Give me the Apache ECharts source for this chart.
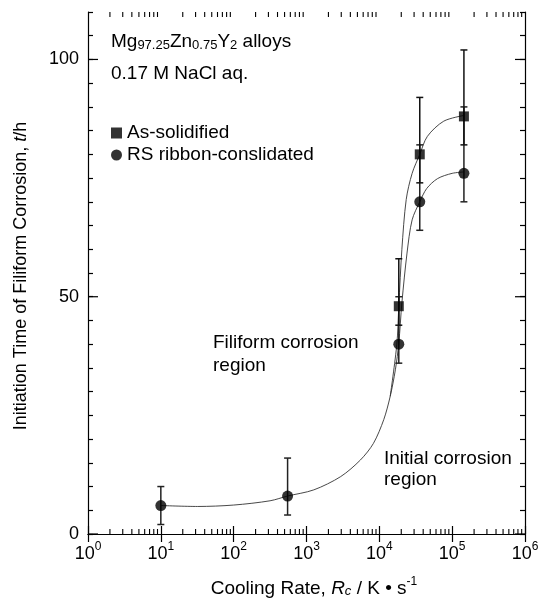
<!DOCTYPE html>
<html>
<head>
    <meta charset="UTF-8">
    <script type="text/javascript" src="https://cdn.jsdelivr.net/npm/echarts@6/dist/echarts.min.js"></script>
</head>
<style>
    body { margin: 0; padding: 0; background: #fff; }
</style>
<body>
<div id="main" style="width: 543px;height:599px;"></div>
<script>
    // measured points (cooling rate K/s, time h)
    var circlePts = [[10, 6], [550, 8], [18500, 40], [35900, 70], [145000, 76]]
    var circleErr = [[10, 2, 10], [550, 4, 16], [18500, 36, 50], [35900, 64, 82], [145000, 70, 90]]
    var squarePts = [[18500, 48], [35900, 80], [145000, 88]]
    var squareErr = [[18500, 44, 58], [35900, 74, 92], [145000, 82, 102]]

    // fitted curves
    var circleCurve = [[10, 6.0], [32, 5.8], [100, 6.1], [316, 7.0], [550, 8.0], [1260, 9.3], [2950, 12.1],
        [5500, 15.6], [8300, 19.1], [11500, 24.1], [14100, 29.0], [16600, 34.6], [18500, 40.2],
        [20400, 48.7], [24000, 59.2], [28200, 66.2], [35900, 70], [44700, 72.8], [63100, 74.9],
        [100000, 76.0], [145000, 76.3]]
    var squareCurve = [[14100, 29.0], [17400, 40], [18500, 48], [20400, 60], [23400, 70.5], [28200, 76],
        [35900, 80], [45700, 83.8], [76700, 87], [145000, 88.2]]

    // axis ticks
    var xMinor = [2, 3, 4, 5, 6, 7, 8, 9,
        20, 30, 40, 50, 60, 70, 80, 90,
        200, 300, 400, 500, 600, 700, 800, 900,
        2000, 3000, 4000, 5000, 6000, 7000, 8000, 9000,
        20000, 30000, 40000, 50000, 60000, 70000, 80000, 90000,
        200000, 300000, 400000, 500000, 600000, 700000, 800000, 900000]
    var yMajor = [0, 50, 100]

    var chart = echarts.init(document.getElementById('main'));
    var FONT = '"Liberation Sans", Arial, sans-serif'

    function errBar(color) {
        return function (params, api) {
            var top = api.coord([api.value(0), api.value(2)])
            var bot = api.coord([api.value(0), api.value(1)])
            var w = 3.5
            var st = {stroke: color, lineWidth: 1.5}
            return {
                type: 'group',
                children: [
                    {type: 'line', shape: {x1: top[0], y1: top[1], x2: bot[0], y2: bot[1]}, style: st},
                    {type: 'line', shape: {x1: top[0] - w, y1: top[1], x2: top[0] + w, y2: top[1]}, style: st},
                    {type: 'line', shape: {x1: bot[0] - w, y1: bot[1], x2: bot[0] + w, y2: bot[1]}, style: st}
                ]
            }
        }
    }

    var xAxisBase = {
        type: 'log',
        logBase: 10,
        min: 1,
        max: 1000000,
        axisLine: {show: true, lineStyle: {color: '#000', width: 1.2}},
        axisTick: {show: true, inside: true, length: 8, lineStyle: {color: '#000', width: 1.2}},
        splitLine: {show: false}
    }
    var yAxisBase = {
        type: 'value',
        min: 0,
        max: 110,
        interval: 5,
        axisLine: {show: true, lineStyle: {color: '#000', width: 1.2}},
        axisTick: {show: true, inside: true, length: 5, lineStyle: {color: '#000', width: 1.2}},
        splitLine: {show: false}
    }

    var option = {
        animation: false,
        backgroundColor: '#fff',
        grid: {left: 88, right: 18, top: 12, bottom: 65},
        xAxis: [
            Object.assign({}, xAxisBase, {
                position: 'bottom',
                axisLabel: {
                    margin: 11,
                    color: '#000',
                    formatter: function (v) {
                        return '{b|10}{e|' + Math.round(Math.log10(v)) + '}'
                    },
                    rich: {
                        b: {fontSize: 18, fontFamily: FONT, color: '#000', lineHeight: 18, verticalAlign: 'bottom'},
                        e: {fontSize: 12, fontFamily: FONT, color: '#000', lineHeight: 12, verticalAlign: 'bottom', padding: [0, 0, 10, 0]}
                    }
                }
            }),
            Object.assign({}, xAxisBase, {position: 'top', axisLabel: {show: false}})
        ],
        yAxis: [
            Object.assign({}, yAxisBase, {
                position: 'left',
                axisLabel: {
                    interval: 0,
                    margin: 9,
                    fontSize: 18,
                    fontFamily: FONT,
                    color: '#000',
                    formatter: function (v) {
                        return yMajor.indexOf(v) >= 0 ? String(v) : ''
                    }
                }
            }),
            Object.assign({}, yAxisBase, {position: 'right', axisLabel: {show: false}})
        ],
        legend: {
            orient: 'vertical',
            left: 106,
            top: 117,
            itemWidth: 11,
            itemHeight: 11,
            itemGap: 0,
            itemStyle: {color: '#000'},
            textStyle: {fontSize: 19, fontFamily: FONT, color: '#000', lineHeight: 22},
            data: [
                {name: 'As-solidified', icon: 'rect'},
                {name: 'RS ribbon-conslidated', icon: 'circle'}
            ]
        },
        graphic: [
            {
                type: 'text', left: 111, top: 22,
                style: {
                    text: '{m|Mg}{s|97.25}{m|Zn}{s|0.75}{m|Y}{s|2}{m| alloys}',
                    rich: {
                        m: {fontSize: 19, fontFamily: FONT, fill: '#000', lineHeight: 20, verticalAlign: 'top'},
                        s: {fontSize: 13, fontFamily: FONT, fill: '#000', lineHeight: 13, verticalAlign: 'bottom', padding: [17, 0, 0, 0]}
                    }
                }
            },
            {
                type: 'text', left: 111, top: 64,
                style: {text: '0.17 M NaCl aq.', fontSize: 19, fontFamily: FONT, fill: '#000'}
            },
            {
                type: 'text', left: 213, top: 331,
                style: {text: 'Filiform corrosion\nregion', fontSize: 19, fontFamily: FONT, fill: '#000', lineHeight: 23}
            },
            {
                type: 'text', left: 384, top: 448,
                style: {text: 'Initial corrosion\nregion', fontSize: 19, fontFamily: FONT, fill: '#000', lineHeight: 21}
            },
            {
                type: 'text', x: 314, y: 587,
                style: {
                    text: '{n|Cooling Rate, }{i|R}{c|c}{n| / K \u2022 s}{p|-1}',
                    align: 'center',
                    verticalAlign: 'middle',
                    rich: {
                        n: {fontSize: 19, fontFamily: FONT, fill: '#000', lineHeight: 22, verticalAlign: 'bottom'},
                        i: {fontSize: 19, fontFamily: FONT, fontStyle: 'italic', fill: '#000', lineHeight: 22, verticalAlign: 'bottom'},
                        c: {fontSize: 13, fontFamily: FONT, fontStyle: 'italic', fill: '#000', lineHeight: 18, verticalAlign: 'bottom'},
                        p: {fontSize: 12, fontFamily: FONT, fill: '#000', lineHeight: 12, verticalAlign: 'top'}
                    }
                }
            },
            {
                type: 'text', x: 21, y: 276, rotation: Math.PI / 2,
                style: {
                    text: '{n|Initiation Time of Filiform Corrosion, }{i|t}{n|/h}',
                    align: 'center',
                    verticalAlign: 'middle',
                    rich: {
                        n: {fontSize: 18, fontFamily: FONT, fill: '#000'},
                        i: {fontSize: 18, fontFamily: FONT, fontStyle: 'italic', fill: '#000'}
                    }
                }
            }
        ],
        series: [
            {
                name: 'circleFit', type: 'line', data: circleCurve, smooth: 0.3, showSymbol: false, silent: true,
                lineStyle: {color: '#333', width: 0.9}, z: 1
            },
            {
                name: 'squareFit', type: 'line', data: squareCurve, smooth: 0.3, showSymbol: false, silent: true,
                lineStyle: {color: '#333', width: 0.9}, z: 1
            },
            {
                name: 'circleErr', type: 'custom', data: circleErr, renderItem: errBar('#222'),
                encode: {x: 0, y: [1, 2]}, z: 2, silent: true
            },
            {
                name: 'squareErr', type: 'custom', data: squareErr, renderItem: errBar('#111'),
                encode: {x: 0, y: [1, 2]}, z: 2, silent: true
            },
            {
                name: 'As-solidified', type: 'scatter', data: squarePts, symbol: 'rect', symbolSize: 10,
                itemStyle: {color: '#000'}, z: 3
            },
            {
                name: 'RS ribbon-conslidated', type: 'scatter', data: circlePts, symbol: 'circle', symbolSize: 11,
                itemStyle: {color: '#000'}, z: 3
            },
            {
                // log-axis minor ticks, bottom and top
                name: 'xMinorTicks', type: 'custom', silent: true, clip: false,
                data: xMinor.map(function (v) { return [v, 0] }),
                encode: {x: 0, y: 1},
                renderItem: function (params, api) {
                    var cs = params.coordSys
                    var px = api.coord([api.value(0), 0])[0]
                    var st = {stroke: '#000', lineWidth: 1.1}
                    return {
                        type: 'group',
                        children: [
                            {type: 'line', shape: {x1: px, y1: cs.y + cs.height, x2: px, y2: cs.y + cs.height - 5}, style: st},
                            {type: 'line', shape: {x1: px, y1: cs.y, x2: px, y2: cs.y + 5}, style: st}
                        ]
                    }
                }
            },
            {
                // longer ticks at labelled y values, left and right
                name: 'yMajorTicks', type: 'custom', silent: true, clip: false,
                data: yMajor.map(function (v) { return [1, v] }),
                encode: {x: 0, y: 1},
                renderItem: function (params, api) {
                    var cs = params.coordSys
                    var py = api.coord([1, api.value(1)])[1]
                    var st = {stroke: '#000', lineWidth: 1.2}
                    return {
                        type: 'group',
                        children: [
                            {type: 'line', shape: {x1: cs.x, y1: py, x2: cs.x + 10, y2: py}, style: st},
                            {type: 'line', shape: {x1: cs.x + cs.width, y1: py, x2: cs.x + cs.width - 10, y2: py}, style: st}
                        ]
                    }
                }
            }
        ]
    };
    chart.setOption(option);
</script>
</body>
</html>
